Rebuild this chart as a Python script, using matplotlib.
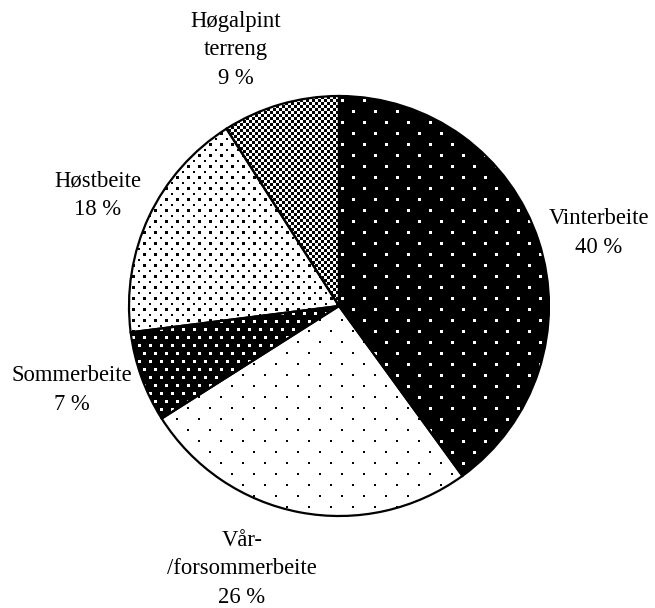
import numpy as np
import matplotlib
matplotlib.use("Agg")
import matplotlib.pyplot as plt

# ---- data ----
categories = ["Vinterbeite", "Vår-\n/forsommerbeite", "Sommerbeite", "Høstbeite", "Høgalpint\nterreng"]
shares = [40, 26, 7, 18, 9]

# ---- layout / style (pixels, y measured from top) ----
W, H = 655, 608
center_px = (339, 306)
radius_px = 210
label_pos = [(599, 233), (242, 569), (72, 390), (98, 195), (236, 50)]
# pattern: (background, dot colour, column spacing, row spacing, dot size)
patterns = [
    ("black", "white", 22, 11, 2.5),
    ("white", "black", 22, 11, 2.0),
    ("black", "white", 11, 8, 3.0),
    ("white", "black", 11, 5.5, 2.5),
    ("black", "white", 6, 3, 3.0),
]

plt.rcParams["font.family"] = ["Liberation Serif", "DejaVu Serif"]

fig = plt.figure(figsize=(W / 100, H / 100), dpi=100)
ax = fig.add_axes([0, 0, 1, 1])

wedges, _ = ax.pie(shares, center=(center_px[0], H - center_px[1]), radius=radius_px,
                   startangle=90, counterclock=False, frame=True,
                   wedgeprops=dict(facecolor="none", edgecolor="black", linewidth=1.6, zorder=3))
ax.set_xlim(0, W)
ax.set_ylim(0, H)
ax.set_aspect("equal")
ax.axis("off")


def make_pattern(bg, fg, col, row, size):
    yy, xx = np.mgrid[0:H, 0:W].astype(float)
    ridx = np.floor(yy / row)
    in_row = (yy - ridx * row) < size
    shift = (ridx % 2) * col / 2.0
    xs = xx - shift
    in_col = (xs - np.floor(xs / col) * col) < size
    mask = in_row & in_col
    bgc = np.array(matplotlib.colors.to_rgb(bg))
    fgc = np.array(matplotlib.colors.to_rgb(fg))
    img = np.where(mask[..., None], fgc, bgc)
    return img


for w, (bg, fg, col, row, size) in zip(wedges, patterns):
    img = make_pattern(bg, fg, col, row, size)
    im = ax.imshow(img, extent=(0, W, 0, H), origin="upper", interpolation="nearest",
                   zorder=1, aspect="auto")
    im.set_clip_path(w)

ax.set_xlim(0, W)
ax.set_ylim(0, H)

for name, val, (lx, ly) in zip(categories, shares, label_pos):
    ax.text(lx, H - ly, f"{name}\n{val} %", ha="center", va="center",
            fontsize=16.3, multialignment="center", linespacing=1.48)

fig.savefig("out.png", dpi=100)
